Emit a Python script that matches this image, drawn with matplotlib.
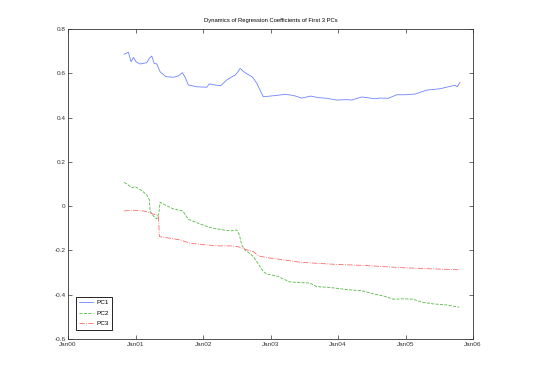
import datetime as dt
import numpy as np
import matplotlib
matplotlib.use('Agg')
import matplotlib.pyplot as plt
import matplotlib.dates as mdates
from matplotlib.ticker import FuncFormatter
from matplotlib import font_manager

# narrow font if there is one, else plain Liberation Sans a bit smaller
try:
    font_manager.findfont('Liberation Sans Narrow', fallback_to_default=False)
    plt.rcParams['font.family'] = ['Liberation Sans Narrow']
    fs, fs_title = 5.4, 5.0
except Exception:
    plt.rcParams['font.family'] = ['Liberation Sans']
    fs, fs_title = 4.6, 4.2
plt.rcParams['axes.unicode_minus'] = False

# time in years since Jan 2000
pc1_t = [0.830, 0.893, 0.933, 0.967, 1.007, 1.067, 1.166, 1.204, 1.240, 1.274,
         1.314, 1.363, 1.447, 1.560, 1.634, 1.693, 1.733, 1.782, 1.907, 2.055,
         2.093, 2.178, 2.262, 2.351, 2.474, 2.508, 2.548, 2.622, 2.721, 2.756,
         2.796, 2.844, 2.893, 2.993, 3.092, 3.215, 3.338, 3.462, 3.596, 3.708,
         3.833, 3.981, 4.129, 4.203, 4.351, 4.474, 4.548, 4.622, 4.745, 4.870,
         4.993, 5.141, 5.314, 5.511, 5.634, 5.733, 5.767, 5.807]
pc1_v = [0.686, 0.695, 0.652, 0.672, 0.652, 0.642, 0.648, 0.668, 0.678, 0.645,
         0.642, 0.607, 0.585, 0.582, 0.588, 0.603, 0.582, 0.547, 0.539, 0.537,
         0.552, 0.547, 0.544, 0.570, 0.592, 0.603, 0.622, 0.603, 0.585, 0.573,
         0.555, 0.524, 0.494, 0.497, 0.500, 0.505, 0.500, 0.488, 0.497, 0.490,
         0.487, 0.479, 0.481, 0.479, 0.493, 0.488, 0.485, 0.488, 0.487, 0.503,
         0.503, 0.506, 0.524, 0.530, 0.539, 0.546, 0.539, 0.559]

pc2_t = [0.830, 0.870, 0.944, 0.993, 1.092, 1.166, 1.204, 1.215, 1.264, 1.314,
         1.344, 1.363, 1.462, 1.560, 1.699, 1.782, 1.956, 2.104, 2.301, 2.425,
         2.499, 2.538, 2.573, 2.622, 2.745, 2.893, 2.944, 3.092, 3.289, 3.437,
         3.585, 3.684, 3.881, 4.178, 4.351, 4.523, 4.671, 4.819, 4.967, 5.116,
         5.240, 5.412, 5.610, 5.797]
pc2_v = [0.107, 0.100, 0.083, 0.088, 0.070, 0.050, 0.028, -0.025, -0.045, -0.058,
         -0.033, 0.017, 0.001, -0.013, -0.022, -0.060, -0.081, -0.097, -0.108, -0.112,
         -0.108, -0.130, -0.176, -0.198, -0.228, -0.296, -0.307, -0.316, -0.343, -0.346,
         -0.348, -0.364, -0.368, -0.379, -0.382, -0.397, -0.406, -0.421, -0.419, -0.421,
         -0.434, -0.442, -0.447, -0.457]

pc3_t = [0.830, 0.967, 1.116, 1.215, 1.264, 1.314, 1.338, 1.353, 1.462, 1.659,
         1.807, 2.055, 2.252, 2.449, 2.548, 2.647, 2.745, 2.819, 2.944, 3.190,
         3.437, 3.930, 4.425, 4.919, 5.412, 5.797]
pc3_v = [-0.022, -0.019, -0.022, -0.030, -0.037, -0.040, -0.048, -0.138, -0.143, -0.153,
         -0.168, -0.176, -0.180, -0.180, -0.186, -0.198, -0.206, -0.225, -0.233, -0.243,
         -0.254, -0.263, -0.269, -0.278, -0.284, -0.288]

start = dt.datetime(2000, 1, 1)
def to_dates(t):
    return [start + dt.timedelta(days=y * 365.25) for y in t]

fig = plt.figure(figsize=(5.45, 3.82), dpi=100)
ax = fig.add_axes([0.125, 0.113, 0.743, 0.811])

ax.plot(to_dates(pc1_t), pc1_v, '-', color='#6f84ff', lw=0.6, label='PC1')
ax.plot(to_dates(pc2_t), pc2_v, '--', color='#55bb44', lw=0.6, label='PC2')
ax.plot(to_dates(pc3_t), pc3_v, '-.', color='#ff6a6a', lw=0.6, label='PC3')

ax.set_xlim(dt.datetime(2000, 1, 1), dt.datetime(2006, 1, 1))
ax.set_ylim(-0.6, 0.8)
ax.xaxis.set_major_locator(mdates.YearLocator())
ax.xaxis.set_major_formatter(mdates.DateFormatter('%b%y'))
ax.set_yticks(np.arange(-0.6, 0.81, 0.2))
ax.yaxis.set_major_formatter(FuncFormatter(lambda v, p: '%g' % round(v, 2)))
ax.tick_params(direction='in', top=True, right=True, length=3, width=0.5,
               labelsize=fs, pad=2, colors='#333333')
for s in ax.spines.values():
    s.set_linewidth(0.6)
    s.set_color('#333333')

ax.set_title('Dynamics of Regression Coefficients of First 3 PCs', fontsize=fs_title, pad=5)
leg = ax.legend(loc='lower left', bbox_to_anchor=(0.02, 0.03), fontsize=fs,
                fancybox=False, framealpha=1, edgecolor='black', handlelength=2.2,
                handletextpad=0.4, borderpad=0.5, labelspacing=0.8, borderaxespad=0)
leg.get_frame().set_linewidth(0.6)

fig.savefig('out.png', dpi=100)
